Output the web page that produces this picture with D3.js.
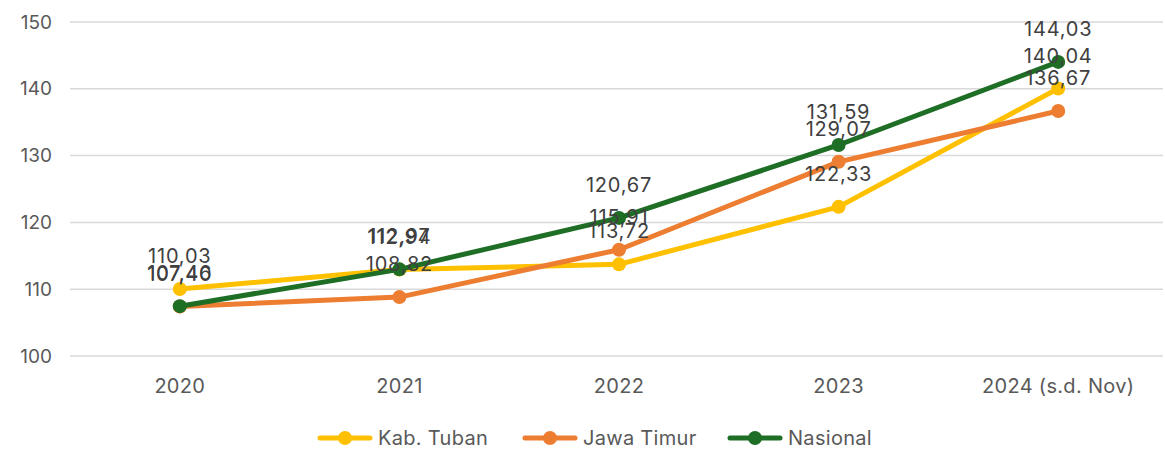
<!DOCTYPE html>
<html lang="id">
<head>
<meta charset="utf-8">
<title>Chart</title>
<script src="https://cdn.jsdelivr.net/npm/d3@7"></script>
<style>
  body { margin: 0; background: #fff; }
  text { font-family: Inter, "Open Sans", sans-serif; }
</style>
</head>
<body>
<script>
// data
const years = ["2020", "2021", "2022", "2023", "2024 (s.d. Nov)"];
const tuban = [110.03, 112.94, 113.72, 122.33, 140.04];
const jatim = [107.40, 108.82, 115.91, 129.07, 136.67];
const nasional = [107.46, 112.97, 120.67, 131.59, 144.03];
const yTicks = [100, 110, 120, 130, 140, 150];

const series = [
  { name: "Kab. Tuban", values: tuban, color: "#FFC000" },
  { name: "Jawa Timur", values: jatim, color: "#ED7D31" },
  { name: "Nasional", values: nasional, color: "#1E6E25" }
];

const width = 1165, height = 450;

const svg = d3.select("body").append("svg")
  .attr("width", width)
  .attr("height", height);

const x = d3.scalePoint()
  .domain(years)
  .range([70, 1168])
  .padding(0.5);

const y = d3.scaleLinear()
  .domain([100, 150])
  .range([356, 22]);

// gridlines
svg.append("g")
  .selectAll("line")
  .data(yTicks)
  .join("line")
  .attr("x1", 70)
  .attr("x2", 1163)
  .attr("y1", d => y(d))
  .attr("y2", d => y(d))
  .attr("stroke", "#d9d9d9")
  .attr("stroke-width", 1.5);

// y labels
svg.append("g")
  .selectAll("text")
  .data(yTicks)
  .join("text")
  .attr("x", 52)
  .attr("y", d => y(d))
  .attr("dy", "0.35em")
  .attr("text-anchor", "end")
  .attr("font-size", 19)
  .attr("fill", "#595959")
  .text(d => d);

// x labels
svg.append("g")
  .selectAll("text")
  .data(years)
  .join("text")
  .attr("x", d => x(d))
  .attr("y", 393)
  .attr("text-anchor", "middle")
  .attr("font-size", 20)
  .attr("letter-spacing", 0.3)
  .attr("fill", "#595959")
  .text(d => d);

const line = d3.line()
  .x((d, i) => x(years[i]))
  .y(d => y(d));

const fmt = v => v.toFixed(2).replace(".", ",");

series.forEach(s => {
  const g = svg.append("g");
  g.append("path")
    .datum(s.values)
    .attr("d", line)
    .attr("fill", "none")
    .attr("stroke", s.color)
    .attr("stroke-width", 5)
    .attr("stroke-linejoin", "round");
  g.selectAll("circle")
    .data(s.values)
    .join("circle")
    .attr("cx", (d, i) => x(years[i]))
    .attr("cy", d => y(d))
    .attr("r", 7)
    .attr("fill", s.color);
});

// data labels on top
series.forEach(s => {
  svg.append("g")
    .selectAll("text")
    .data(s.values)
    .join("text")
    .attr("x", (d, i) => x(years[i]))
    .attr("y", d => y(d) - 26)
    .attr("text-anchor", "middle")
    .attr("font-size", 20)
    .attr("letter-spacing", 0.8)
    .attr("fill", "#404040")
    .text(d => fmt(d));
});

// legend
const legend = svg.append("g");
const legendX = [318, 523, 728];
series.forEach((s, i) => {
  const lg = legend.append("g").attr("transform", "translate(" + legendX[i] + ",438)");
  lg.append("line")
    .attr("x1", 2).attr("x2", 52)
    .attr("stroke", s.color)
    .attr("stroke-width", 5)
    .attr("stroke-linecap", "round");
  lg.append("circle")
    .attr("cx", 27)
    .attr("r", 7)
    .attr("fill", s.color);
  lg.append("text")
    .attr("x", 60)
    .attr("dy", "0.35em")
    .attr("font-size", 20)
    .attr("letter-spacing", 0.3)
    .attr("fill", "#595959")
    .text(s.name);
});
</script>
</body>
</html>
